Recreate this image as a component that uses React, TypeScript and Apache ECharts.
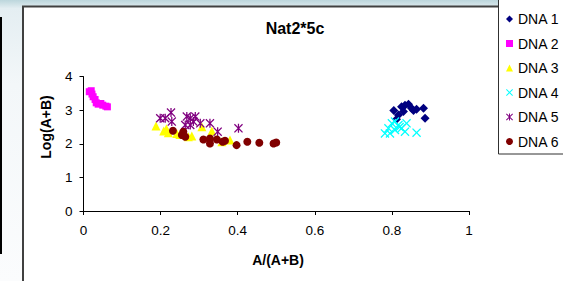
import React, { useEffect, useRef } from 'react';
import * as echarts from 'echarts';

const seriesNames = ['DNA 1', 'DNA 2', 'DNA 3', 'DNA 4', 'DNA 5', 'DNA 6'];
const seriesColors = ['#000080', '#FF00FF', '#FFFF00', '#00FFFF', '#800080', '#800000'];

const dna1 = [[0.805, 2.99], [0.825, 3.1], [0.843, 3.18], [0.851, 3.06], [0.864, 3.03], [0.882, 3.06], [0.886, 2.76], [0.817, 2.86], [0.83, 2.96], [0.812, 2.73], [0.834, 3.15], [0.856, 2.99]];
const dna2 = [[0.015, 3.55], [0.02, 3.58], [0.022, 3.48], [0.025, 3.4], [0.03, 3.32], [0.033, 3.22], [0.038, 3.18], [0.045, 3.2], [0.05, 3.15], [0.058, 3.12], [0.062, 3.1]];
const dna3 = [[0.188, 2.53], [0.208, 2.38], [0.22, 2.33], [0.215, 2.45], [0.242, 2.31], [0.272, 2.21], [0.281, 2.23], [0.307, 2.51], [0.333, 2.38], [0.359, 2.06], [0.38, 2.11], [0.25, 2.28]];
const dna4 = [[0.782, 2.31], [0.791, 2.46], [0.8, 2.61], [0.808, 2.41], [0.817, 2.56], [0.825, 2.46], [0.838, 2.61], [0.834, 2.36], [0.864, 2.33], [0.808, 2.66], [0.795, 2.31], [0.82, 2.5]];
const dna5 = [[0.199, 2.76], [0.212, 2.76], [0.227, 2.93], [0.229, 2.66], [0.268, 2.81], [0.277, 2.76], [0.29, 2.81], [0.264, 2.56], [0.277, 2.56], [0.285, 2.66], [0.303, 2.61], [0.328, 2.61], [0.348, 2.36], [0.402, 2.46]];
const dna6 = [[0.232, 2.39], [0.255, 2.26], [0.259, 2.36], [0.264, 2.21], [0.311, 2.13], [0.328, 2.16], [0.328, 2.01], [0.346, 2.13], [0.361, 2.06], [0.367, 2.09], [0.397, 1.96], [0.425, 2.06], [0.456, 2.03], [0.493, 2.01], [0.5, 2.04]];

const seriesData = [dna1, dna2, dna3, dna4, dna5, dna6];

const crossPath = 'path://M0,1L1,0L5,4L9,0L10,1L6,5L10,9L9,10L5,6L1,10L0,9L4,5Z';
const starPath = 'path://M0,1L1,0L5,4L9,0L10,1L6,5L10,9L9,10L5,6L1,10L0,9L4,5ZM4.3,0L5.7,0L5.7,10L4.3,10Z';
const symbols = ['diamond', 'rect', 'triangle', crossPath, starPath, 'circle'];
const symbolSizes = [9, 7, 9, 9, 9, 8];

const FONT = '"Liberation Sans", Arial, sans-serif';

export default function App() {
  const ref = useRef<HTMLDivElement>(null);
  useEffect(() => {
    document.body.style.margin = '0';
    const chart = echarts.init(ref.current as HTMLDivElement, null, { renderer: 'svg' });
    chart.setOption({
      animation: false,
      textStyle: { fontFamily: FONT },
      grid: { left: 83.5, right: 94, top: 76.6, bottom: 70 },
      xAxis: {
        type: 'value', min: 0, max: 1, interval: 0.2,
        axisLine: { show: true, lineStyle: { color: '#000', width: 1 } },
        axisTick: { show: true, inside: false, length: 4, lineStyle: { color: '#000' } },
        axisLabel: { color: '#000', fontSize: 13.5, margin: 12, fontFamily: FONT },
        splitLine: { show: false },
      },
      yAxis: {
        type: 'value', min: 0, max: 4, interval: 1,
        axisLine: { show: true, lineStyle: { color: '#000', width: 1 } },
        axisTick: { show: true, inside: false, length: 4, lineStyle: { color: '#000' } },
        axisLabel: { color: '#000', fontSize: 13.5, margin: 11, fontFamily: FONT },
        splitLine: { show: false },
      },
      legend: {
        orient: 'vertical', left: 506, top: 12, padding: 0,
        itemWidth: 7, itemHeight: 7, itemGap: 10.5,
        textStyle: { fontSize: 14, color: '#000', fontFamily: FONT },
        data: seriesNames,
      },
      graphic: [
        {
          type: 'rect', z: -20, shape: { x: 0, y: 0, width: 563, height: 281 },
          style: {
            fill: new echarts.graphic.LinearGradient(0, 0, 0, 1, [
              { offset: 0, color: '#bcd6dc' },
              { offset: 0.03, color: '#e4eef2' },
              { offset: 0.3, color: '#f3f7f9' },
              { offset: 1, color: '#fbfcfd' },
            ]),
          },
        },
        { type: 'rect', z: -19, shape: { x: 0, y: 17, width: 2, height: 237 }, style: { fill: '#000' } },
        { type: 'rect', z: -18, shape: { x: 23, y: 6.5, width: 600, height: 300 }, style: { fill: '#fff', stroke: '#404040', lineWidth: 2 } },
        { type: 'rect', z: -17, shape: { x: 498.5, y: -5, width: 80, height: 159 }, style: { fill: '#fff', stroke: '#303030', lineWidth: 1 } },
        { type: 'text', x: 295, y: 28, style: { text: 'Nat2*5c', font: `bold 16px ${FONT}`, fill: '#000', align: 'center', verticalAlign: 'middle' } },
        { type: 'text', x: 278, y: 260, style: { text: 'A/(A+B)', font: `bold 14px ${FONT}`, fill: '#000', align: 'center', verticalAlign: 'middle' } },
        { type: 'text', x: 46, y: 127, rotation: Math.PI / 2, style: { text: 'Log(A+B)', font: `bold 14px ${FONT}`, fill: '#000', align: 'center', verticalAlign: 'middle' } },
      ],
      series: seriesNames.map((name, i) => ({
        name,
        type: 'scatter',
        data: seriesData[i],
        symbol: symbols[i],
        symbolSize: symbolSizes[i],
        itemStyle: { color: seriesColors[i], opacity: 1 },
        emphasis: { disabled: true },
      })),
    });
    return () => chart.dispose();
  }, []);
  return <div ref={ref} style={{ width: 563, height: 281 }} />;
}
